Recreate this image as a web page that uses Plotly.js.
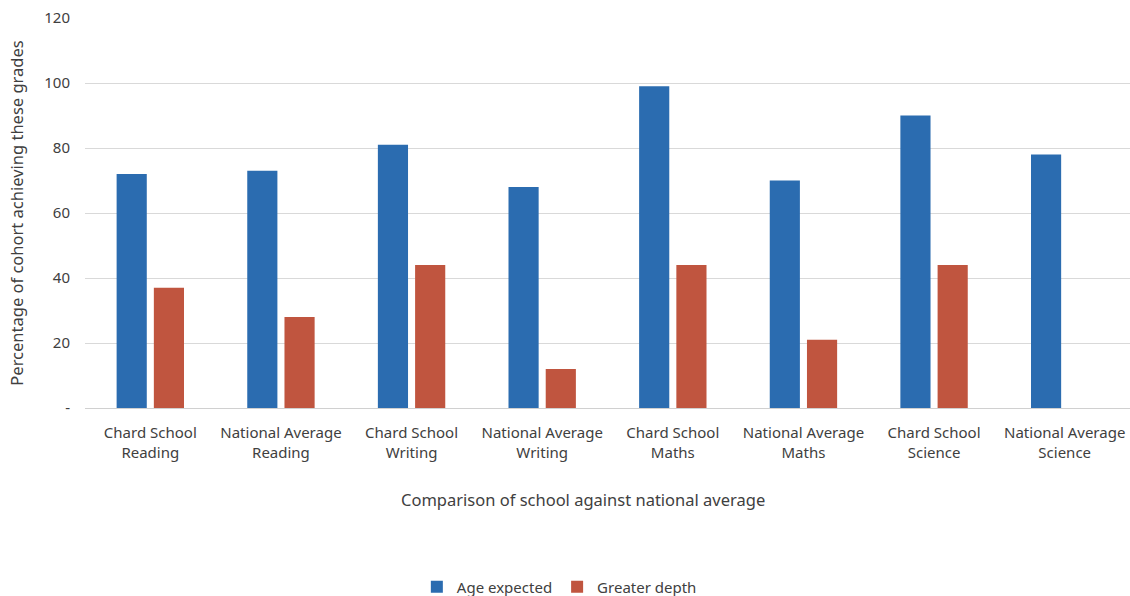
<!DOCTYPE html>
<html>
<head>
<meta charset="utf-8">
<script src="https://cdn.plot.ly/plotly-3.0.1.min.js"></script>
<style>html,body{margin:0;padding:0;background:#fff;}#chart{width:1130px;height:596px;}</style>
</head>
<body>
<div id="chart"></div>
<script>
const categories = [
  "Chard School<br>Reading", "National Average<br>Reading",
  "Chard School<br>Writing", "National Average<br>Writing",
  "Chard School<br>Maths", "National Average<br>Maths",
  "Chard School<br>Science", "National Average<br>Science"
];
const ageExpected = [72, 73, 81, 68, 99, 70, 90, 78];
const greaterDepth = [37, 28, 44, 12, 44, 21, 44, null];
const yTickVals = [0, 20, 40, 60, 80, 100, 120];
const yTickText = ["-", "20", "40", "60", "80", "100", "120"];
const xTitle = 'Comparison of school against national average';
const yTitle = 'Percentage of cohort achieving these grades';

const fontFam = "'Noto Sans', 'Open Sans', sans-serif";
const txt = '#404040';
const data = [
  {type: 'bar', name: 'Age expected', x: categories, y: ageExpected, marker: {color: '#2b6cb0'}},
  {type: 'bar', name: 'Greater depth', x: categories, y: greaterDepth, marker: {color: '#c0553f'}}
];
const layout = {
  width: 1130, height: 596,
  margin: {l: 85, r: 0, t: 18, b: 188},
  paper_bgcolor: '#fff', plot_bgcolor: '#fff',
  font: {family: fontFam, size: 14, color: txt},
  barmode: 'group', bargap: 0.43, bargroupgap: 0.19,
  xaxis: {
    tickfont: {size: 15, color: txt},
    showgrid: false, showline: true, linecolor: '#d0d0d0', ticks: '',
    ticklabelstandoff: 11
  },
  yaxis: {
    range: [0, 120], tickvals: yTickVals, ticktext: yTickText,
    tickfont: {size: 15, color: txt},
    gridcolor: '#d9d9d9', zeroline: false, showline: false, ticks: '',
    ticklabelstandoff: 14,
    title: {text: yTitle, font: {size: 16.5, color: txt}, standoff: 16}
  },
  annotations: [{
    text: xTitle, xref: 'paper', yref: 'paper', x: 0.4766, y: -0.235,
    xanchor: 'center', yanchor: 'middle', showarrow: false,
    font: {size: 16.5, color: txt}
  }],
  showlegend: true,
  legend: {orientation: 'h', xref: 'container', yref: 'container', x: 0.495, xanchor: 'center', y: 0.015, yanchor: 'middle', font: {size: 15, color: txt}}
};
Plotly.newPlot('chart', data, layout, {displayModeBar: false, staticPlot: true});
</script>
</body>
</html>
